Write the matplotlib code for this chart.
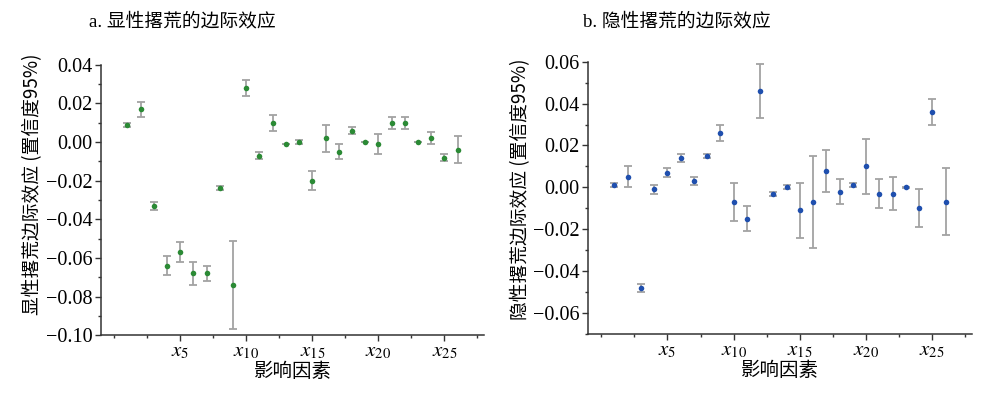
import numpy as np
import matplotlib
matplotlib.use("Agg")
import matplotlib.pyplot as plt
from matplotlib.ticker import MultipleLocator, FuncFormatter

plt.rcParams['font.family'] = ['Liberation Serif', 'Noto Sans CJK SC', 'DejaVu Sans']
plt.rcParams['mathtext.fontset'] = 'stix'

# ------------------------
# Data
# ------------------------
factors = np.arange(1, 27)

# a. explicit abandonment: marginal effect, 95% CI lower / upper
a_effect = [0.009, 0.017, -0.033, -0.064, -0.057, -0.068, -0.068, -0.024, -0.074, 0.028,
            -0.007, 0.010, -0.001, 0.000, -0.020, 0.002, -0.005, 0.006, 0.000, -0.001,
            0.010, 0.010, 0.000, 0.002, -0.008, -0.004]
a_low = [0.008, 0.013, -0.035, -0.069, -0.062, -0.074, -0.072, -0.025, -0.097, 0.024,
         -0.009, 0.006, -0.0012, -0.001, -0.025, -0.005, -0.009, 0.004, -0.0002, -0.006,
         0.007, 0.007, -0.0002, -0.001, -0.010, -0.011]
a_high = [0.010, 0.021, -0.031, -0.059, -0.052, -0.062, -0.064, -0.023, -0.051, 0.032,
          -0.005, 0.014, -0.0008, 0.001, -0.015, 0.009, -0.001, 0.008, 0.0002, 0.004,
          0.013, 0.013, 0.0002, 0.005, -0.006, 0.003]

# b. implicit abandonment
b_effect = [0.001, 0.005, -0.048, -0.001, 0.007, 0.014, 0.003, 0.015, 0.026, -0.007,
            -0.015, 0.046, -0.003, 0.000, -0.011, -0.007, 0.008, -0.002, 0.001, 0.010,
            -0.003, -0.003, 0.000, -0.010, 0.036, -0.007]
b_low = [0.000, 0.000, -0.050, -0.003, 0.005, 0.012, 0.001, 0.014, 0.022, -0.016,
         -0.021, 0.033, -0.004, -0.001, -0.024, -0.029, -0.002, -0.008, 0.000, -0.003,
         -0.010, -0.011, -0.0002, -0.019, 0.030, -0.023]
b_high = [0.002, 0.010, -0.046, 0.001, 0.009, 0.016, 0.005, 0.016, 0.030, 0.002,
          -0.009, 0.059, -0.002, 0.001, 0.002, 0.015, 0.018, 0.004, 0.002, 0.023,
          0.004, 0.005, 0.0002, -0.001, 0.042, 0.009]

xtick_pos = [5, 10, 15, 20, 25]
xtick_labels = [r'$x_{5}$', r'$x_{10}$', r'$x_{15}$', r'$x_{20}$', r'$x_{25}$']


def _minus_fmt(v, pos):
    s = f"{abs(v):.2f}"
    return ("\u2212" + s) if v < -1e-9 else s


def draw_panel(ax, eff, low, high, color, ylim, ylabel):
    eff = np.array(eff)
    yerr = np.vstack([eff - np.array(low), np.array(high) - eff])
    ax.errorbar(factors, eff, yerr=yerr, fmt='none', ecolor='#a3a3a3',
                elinewidth=1.3, capsize=2.6, capthick=1.3, zorder=2)
    ax.plot(factors, eff, linestyle='none', marker='o', markersize=4,
            color=color, markeredgewidth=0, zorder=3)
    ax.set_xlim(-1, 28)
    ax.set_ylim(*ylim)
    ax.spines['top'].set_visible(False)
    ax.spines['right'].set_visible(False)
    for sp in ('left', 'bottom'):
        ax.spines[sp].set_linewidth(1.1)
        ax.spines[sp].set_color('#333333')
    ax.set_xticks(xtick_pos)
    ax.set_xticklabels(xtick_labels, fontsize=15)
    ax.set_xticks([0, 2.5, 7.5, 12.5, 17.5, 22.5, 27.5], minor=True)
    ax.yaxis.set_major_locator(MultipleLocator(0.02))
    ax.yaxis.set_minor_locator(MultipleLocator(0.01))
    ax.yaxis.set_major_formatter(FuncFormatter(_minus_fmt))
    ax.tick_params(axis='both', which='major', length=4, width=1, direction='out',
                   colors='#333333', labelcolor='black')
    ax.tick_params(axis='both', which='minor', length=2.5, width=1, direction='out',
                   colors='#333333')
    ax.tick_params(axis='y', labelsize=14.5, pad=2)
    ax.tick_params(axis='x', pad=1)
    ax.set_xlabel('影响因素', fontsize=14, family=['Noto Sans CJK SC'], labelpad=0)
    ax.set_ylabel(ylabel, fontsize=13.5, family=['Noto Sans CJK SC', 'Liberation Serif'])


fig = plt.figure(figsize=(10, 3.98), dpi=100)
ax_a = fig.add_axes([0.101, 0.158, 0.383, 0.679])
ax_b = fig.add_axes([0.588, 0.161, 0.384, 0.684])

draw_panel(ax_a, a_effect, a_low, a_high, '#2b8a35', (-0.10, 0.04),
           '显性撂荒边际效应 (置信度95%)')
draw_panel(ax_b, b_effect, b_low, b_high, '#1f4fae', (-0.07, 0.06),
           '隐性撂荒边际效应 (置信度95%)')
ax_a.yaxis.set_label_coords(-0.152, 0.56)
ax_b.yaxis.set_label_coords(-0.147, 0.53)

fig.text(0.089, 0.945, 'a. 显性撂荒的边际效应', fontsize=13.5, va='center', ha='left',
         family=['Liberation Serif', 'Noto Sans CJK SC'])
fig.text(0.583, 0.945, 'b. 隐性撂荒的边际效应', fontsize=13.5, va='center', ha='left',
         family=['Liberation Serif', 'Noto Sans CJK SC'])

fig.savefig('out.png', dpi=100)
